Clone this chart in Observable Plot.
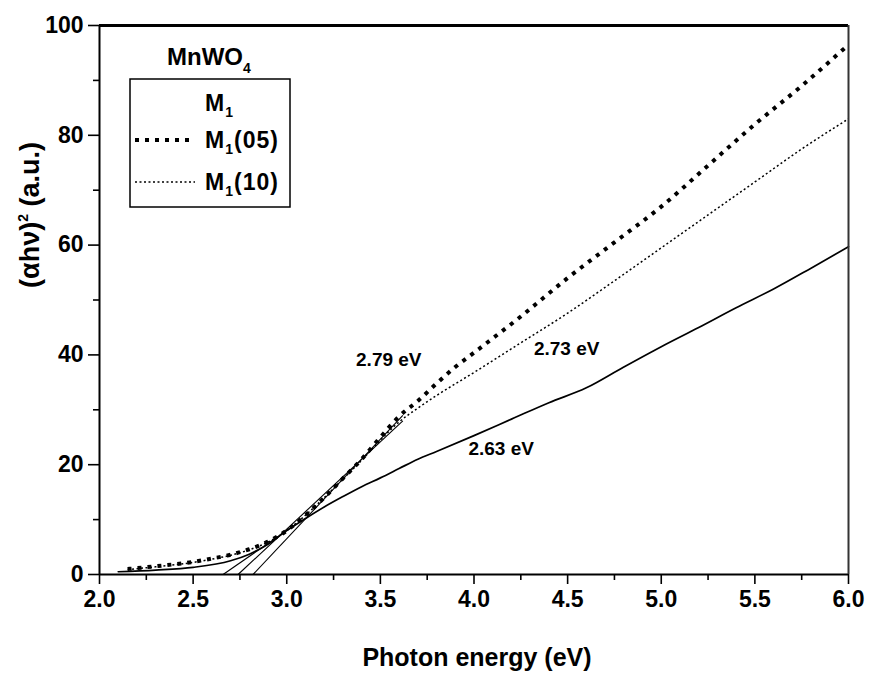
<!DOCTYPE html>
<html>
<head>
<meta charset="utf-8">
<script src="https://cdn.jsdelivr.net/npm/d3@7"></script>
<script src="https://cdn.jsdelivr.net/npm/@observablehq/plot@0.6"></script>
<style>
  html, body { margin: 0; padding: 0; background: #fff; }
  #chart { position: relative; width: 871px; height: 674px; }
</style>
</head>
<body>
<div id="chart"></div>
<script>
// ---- data ----
const energyM1 = [2.1, 2.3, 2.5, 2.7, 2.8, 2.9, 3.0, 3.1, 3.2, 3.3, 3.4, 3.5, 3.6, 3.7, 3.8, 4.0, 4.2, 4.4, 4.6, 4.8, 5.0, 5.2, 5.4, 5.6, 5.8, 6.0];
const valueM1  = [0.5, 0.8, 1.3, 2.5, 3.7, 5.5, 8.0, 10.2, 12.3, 14.2, 16.0, 17.6, 19.3, 21.0, 22.4, 25.3, 28.3, 31.3, 34.0, 37.8, 41.5, 45.0, 48.6, 52.0, 55.8, 59.7];

const energy05 = [2.15, 2.3, 2.5, 2.6, 2.7, 2.8, 2.9, 3.0, 3.1, 3.2, 3.3, 3.4, 3.5, 3.6, 3.7, 3.8, 3.9, 4.0, 4.25, 4.5, 4.75, 5.0, 5.25, 5.5, 5.75, 6.0];
const value05  = [1.0, 1.5, 2.3, 2.9, 3.6, 4.6, 6.0, 8.0, 10.8, 14.0, 17.5, 21.0, 25.0, 28.8, 31.6, 34.8, 37.8, 40.4, 47.0, 54.0, 60.5, 67.0, 74.5, 82.0, 89.0, 96.5];

const energy10 = [2.15, 2.3, 2.5, 2.6, 2.7, 2.8, 2.9, 3.0, 3.1, 3.2, 3.3, 3.4, 3.5, 3.6, 3.7, 3.8, 4.0, 4.25, 4.5, 4.75, 5.0, 5.25, 5.5, 5.75, 6.0];
const value10  = [0.9, 1.4, 2.2, 2.8, 3.5, 4.5, 5.9, 8.0, 10.8, 14.0, 17.4, 20.8, 24.5, 27.8, 30.3, 32.6, 36.8, 42.2, 47.6, 53.5, 59.5, 65.5, 71.5, 77.5, 83.0];

// tangent (Tauc) fit lines: start at the x-intercept, end on the curve
const tangentStartX = [2.66, 2.74, 2.82];
const tangentEndX   = [3.05, 3.62, 3.62];
const tangentEndY   = [9.2, 28.0, 29.0];

const gapLabels = ["2.79 eV", "2.73 eV", "2.63 eV"];
const gapLabelX = [3.37, 4.32, 3.97];
const gapLabelY = [39.1, 41.1, 22.9];

const xMajor = [2.0, 2.5, 3.0, 3.5, 4.0, 4.5, 5.0, 5.5, 6.0];
const xMinor = [2.25, 2.75, 3.25, 3.75, 4.25, 4.75, 5.25, 5.75];
const yMajor = [0, 20, 40, 60, 80, 100];
const yMinor = [10, 30, 50, 70, 90];

const legendTitle = "MnWO";
const seriesNames = ["M", "M", "M"];
const seriesSuffix = ["", "(05)", "(10)"];

// ---- build tables ----
const zip = (xs, ys) => xs.map((x, i) => ({x, y: ys[i]}));
const m1 = zip(energyM1, valueM1);
const s05 = zip(energy05, value05);
const s10 = zip(energy10, value10);
const tangents = tangentStartX.map((x0, i) => ({x1: x0, y1: 0, x2: tangentEndX[i], y2: tangentEndY[i]}));
const labels = gapLabels.map((t, i) => ({t, x: gapLabelX[i], y: gapLabelY[i]}));

const FONT = "'Liberation Sans', Arial, sans-serif";

const chart = Plot.plot({
  width: 871,
  height: 674,
  marginLeft: 99,
  marginRight: 23,
  marginTop: 25,
  marginBottom: 100,
  style: {background: "#fff", fontFamily: FONT, color: "#000"},
  x: {domain: [2, 6]},
  y: {domain: [0, 100]},
  marks: [
    Plot.axisX({ticks: xMajor, tickSize: 10, tickPadding: 6, tickFormat: d3.format(".1f"), fontSize: 23, fontWeight: "bold", label: null, strokeWidth: 1.6}),
    Plot.axisX({ticks: xMinor, tickSize: 6, tickFormat: () => "", label: null, strokeWidth: 1.6}),
    Plot.axisY({ticks: yMajor, tickSize: 11, tickPadding: 5, tickFormat: d3.format("d"), fontSize: 23, fontWeight: "bold", label: null, strokeWidth: 1.6}),
    Plot.axisY({ticks: yMinor, tickSize: 6, tickFormat: () => "", label: null, strokeWidth: 1.6}),
    Plot.link(tangents, {x1: "x1", y1: "y1", x2: "x2", y2: "y2", stroke: "#000", strokeWidth: 1.1}),
    Plot.line(m1, {x: "x", y: "y", stroke: "#000", strokeWidth: 1.7, curve: "monotone-x"}),
    Plot.line(s10, {x: "x", y: "y", stroke: "#000", strokeWidth: 1.5, strokeDasharray: "2 2.5", strokeLinecap: "butt", curve: "monotone-x"}),
    Plot.line(s05, {x: "x", y: "y", stroke: "#000", strokeWidth: 4, strokeDasharray: "4 6", strokeLinecap: "butt", curve: "monotone-x"}),
    Plot.text(labels, {x: "x", y: "y", text: "t", textAnchor: "start", fontSize: 19, fontWeight: "bold", fill: "#000"}),
    Plot.ruleY([0], {stroke: "#000", strokeWidth: 2}),
    Plot.ruleY([100], {stroke: "#000", strokeWidth: 3}),
    Plot.ruleX([2], {stroke: "#000", strokeWidth: 2}),
    Plot.ruleX([6], {stroke: "#333", strokeWidth: 2})
  ]
});

document.getElementById("chart").appendChild(chart);

// ---- axis titles and legend drawn into the same SVG ----
const svg = d3.select(chart);

svg.append("text")
  .attr("x", 477).attr("y", 666)
  .attr("text-anchor", "middle")
  .style("font-family", FONT).style("font-size", "25px").style("font-weight", "bold")
  .text("Photon energy (eV)");

const yl = svg.append("text")
  .attr("transform", "translate(39,215) rotate(-90)")
  .attr("text-anchor", "middle")
  .style("font-family", FONT).style("font-size", "27px").style("font-weight", "bold");
yl.append("tspan").text("(\u03B1h\u03BD)");
yl.append("tspan").attr("dy", -11).style("font-size", "14px").text("2");
yl.append("tspan").attr("dy", 11).text(" (a.u.)");

const lg = svg.append("g").attr("text-anchor", "start")
  .style("font-family", FONT).style("font-weight", "bold").style("font-size", "23px");
const t = lg.append("text").attr("x", 167).attr("y", 65).attr("text-anchor", "start").style("font-size", "24px");
t.append("tspan").text(legendTitle);
t.append("tspan").attr("dy", 8).style("font-size", "14px").text("4");

lg.append("rect").attr("x", 130).attr("y", 79).attr("width", 160).attr("height", 128)
  .attr("fill", "#fff").attr("stroke", "#000").attr("stroke-width", 1.5);

const rowY = [111, 148, 190];
const sampleDash = [null, "4 6", "2 2.5"];
const sampleWidth = [0, 4, 1.5];
seriesNames.forEach((n, i) => {
  if (sampleWidth[i] > 0) {
    lg.append("line").attr("x1", 135).attr("x2", 195).attr("y1", rowY[i] - 8).attr("y2", rowY[i] - 8)
      .attr("stroke", "#000").attr("stroke-width", sampleWidth[i]).attr("stroke-dasharray", sampleDash[i]);
  }
  const tx = lg.append("text").attr("x", 205).attr("y", rowY[i]).attr("text-anchor", "start").style("letter-spacing", "1px");
  tx.append("tspan").text(n);
  tx.append("tspan").attr("dy", 6).style("font-size", "14px").text("1");
  tx.append("tspan").attr("dy", -6).text(seriesSuffix[i]);
});
</script>
</body>
</html>
